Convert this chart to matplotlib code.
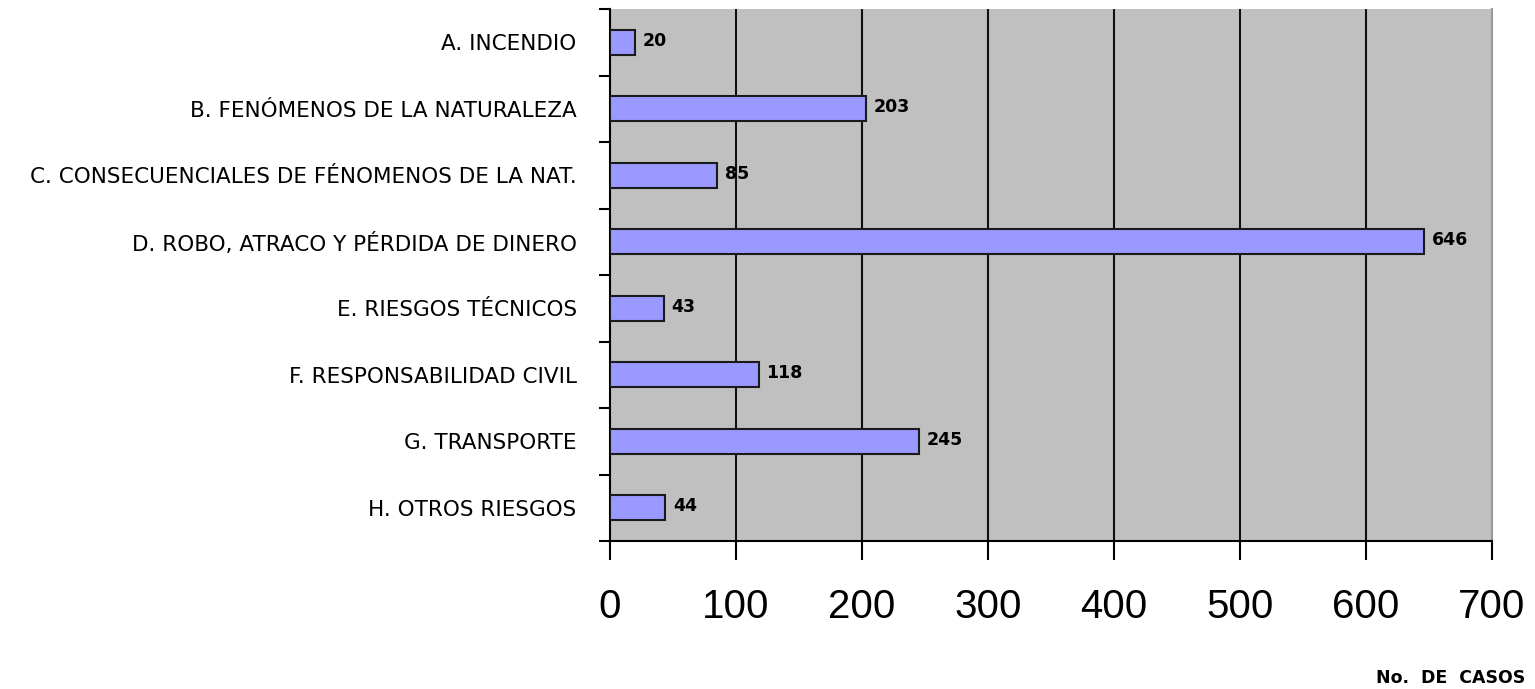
import matplotlib
matplotlib.use('Agg')
import matplotlib.pyplot as plt
import numpy as np

# datos
categorias = ['A. INCENDIO',
              'B. FENÓMENOS DE LA NATURALEZA',
              'C. CONSECUENCIALES DE FÉNOMENOS DE LA NAT.',
              'D. ROBO, ATRACO Y PÉRDIDA DE DINERO',
              'E. RIESGOS TÉCNICOS',
              'F. RESPONSABILIDAD CIVIL',
              'G. TRANSPORTE',
              'H. OTROS RIESGOS']
casos = [20, 203, 85, 646, 43, 118, 245, 44]
x_ticks = [0, 100, 200, 300, 400, 500, 600, 700]

fig = plt.figure(figsize=(15.35, 6.89), dpi=100)
ax = fig.add_axes([610/1535, 1 - 541/689, (1492 - 610)/1535, (541 - 9)/689])
ax.set_facecolor('#C0C0C0')

y = np.arange(len(categorias))
ax.barh(y, casos, height=0.38, color='#9999FF', edgecolor='#1a1a1a', linewidth=1.5, zorder=3)

for yi, v in zip(y, casos):
    ax.text(v + 6, yi - 0.02, str(v), va='center', ha='left', fontsize=12.5,
            fontweight='bold', family='DejaVu Sans', zorder=4)

ax.set_xlim(0, 700)
ax.set_ylim(len(categorias) - 0.5, -0.5)

# lineas verticales
for t in x_ticks[1:-1]:
    ax.axvline(t, color='#111111', linewidth=1.5, zorder=1)

ax.set_xticks(x_ticks)
ax.set_xticklabels([str(t) for t in x_ticks], fontsize=29, family='Liberation Sans')
ax.tick_params(axis='x', length=14, width=1.5, pad=20, direction='out')

ax.set_yticks(y)
ax.set_yticklabels(categorias, fontsize=15.5, family='DejaVu Sans')
ax.tick_params(axis='y', length=0, pad=24)
ax.set_yticks(np.arange(len(categorias) + 1) - 0.5, minor=True)
ax.tick_params(axis='y', which='minor', length=8, width=1.5, direction='out')

ax.spines['top'].set_visible(False)
ax.spines['right'].set_color('#999999')
ax.spines['right'].set_linewidth(1.5)
ax.spines['left'].set_linewidth(1.5)
ax.spines['bottom'].set_linewidth(1.5)

fig.text(1525/1535, 1 - 678/689, 'No.  DE  CASOS', ha='right', va='center',
         fontsize=12.5, fontweight='bold', family='DejaVu Sans')

fig.savefig('out.png', dpi=100)
